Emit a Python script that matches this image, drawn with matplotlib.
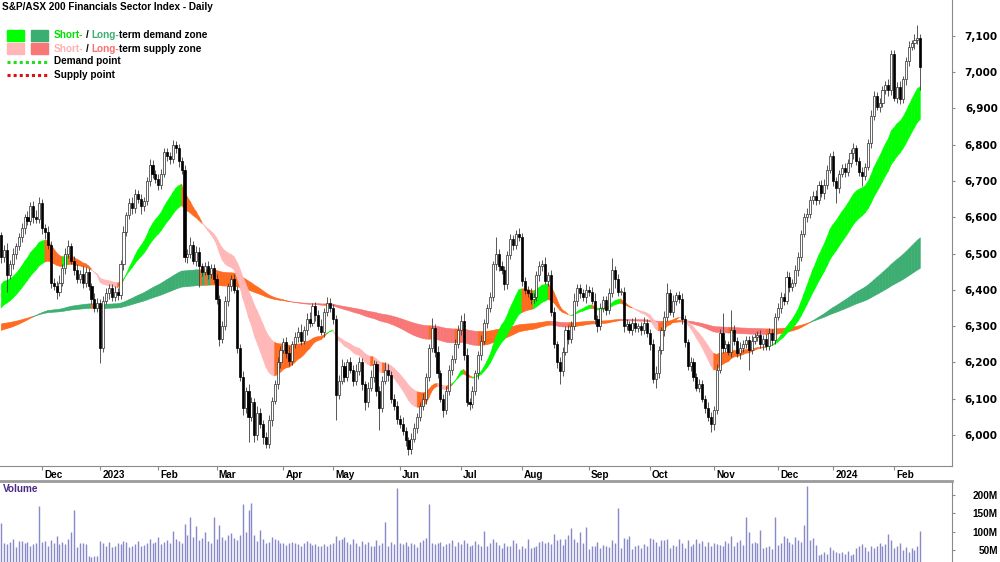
import matplotlib
matplotlib.use("Agg")
import matplotlib.pyplot as plt
from matplotlib.collections import PolyCollection
from matplotlib.patches import Rectangle
from matplotlib.lines import Line2D
import numpy as np
import pandas as pd

# ASX trading days shown on the chart
holidays = ['2022-12-26', '2022-12-27', '2023-01-02', '2023-01-26', '2023-04-07',
            '2023-04-10', '2023-04-25', '2023-06-12', '2023-12-25', '2023-12-26',
            '2024-01-01', '2024-01-26']
dates = pd.bdate_range('2022-11-11', '2024-02-14')
dates = dates[~dates.isin(pd.to_datetime(holidays))]

first_open = 6550
closes = [
    6490, 6510, 6440, 6470, 6500, 6520, 6545, 6570, 6600, 6590, 6630, 6600, 6595, 6640, 6570, 6560, 6525, 6420, 6410, 6395,
    6420, 6460, 6500, 6520, 6480, 6455, 6430, 6445, 6420, 6450, 6410, 6375, 6350, 6365, 6240, 6370, 6390, 6405, 6380, 6395,
    6385, 6470, 6560, 6605, 6640, 6625, 6665, 6650, 6630, 6645, 6700, 6745, 6720, 6705, 6690, 6720, 6780, 6770, 6760, 6800,
    6790, 6755, 6730, 6490, 6500, 6525, 6480, 6505, 6465, 6450, 6465, 6445, 6460, 6430, 6375, 6265, 6300, 6370, 6410, 6430,
    6400, 6240, 6160, 6075, 6120, 6050, 6090, 6000, 6060, 6030, 5995, 5975, 6040, 6095, 6140, 6200, 6235, 6255, 6225, 6205,
    6250, 6270, 6285, 6260, 6290, 6320, 6310, 6355, 6330, 6300, 6285, 6340, 6365, 6350, 6320, 6110, 6150, 6190, 6160, 6200,
    6180, 6150, 6175, 6200, 6140, 6090, 6130, 6160, 6195, 6120, 6075, 6150, 6180, 6165, 6100, 6080, 6045, 6030, 6010, 5985,
    5960, 5990, 6020, 6050, 6080, 6100, 6160, 6240, 6295, 6230, 6170, 6100, 6070, 6120, 6180, 6210, 6250, 6290, 6315, 6220,
    6090, 6085, 6120, 6170, 6220, 6260, 6310, 6350, 6380, 6470, 6500, 6465, 6455, 6415, 6495, 6540, 6525, 6555, 6545, 6425,
    6400, 6390, 6375, 6380, 6440, 6465, 6470, 6425, 6440, 6340, 6250, 6200, 6175, 6230, 6290, 6265, 6300, 6370, 6405, 6390,
    6380, 6400, 6395, 6370, 6320, 6300, 6350, 6372, 6345, 6390, 6455, 6430, 6395, 6395, 6300, 6305, 6290, 6310, 6295, 6300,
    6290, 6310, 6280, 6250, 6155, 6170, 6234, 6289, 6326, 6390, 6340, 6370, 6385, 6375, 6320, 6255, 6190, 6200, 6160, 6130,
    6140, 6100, 6075, 6050, 6030, 6070, 6180, 6280, 6240, 6250, 6230, 6290, 6260, 6225, 6240, 6250, 6262, 6235, 6260, 6270,
    6275, 6250, 6265, 6245, 6280, 6262, 6326, 6350, 6381, 6370, 6436, 6409, 6420, 6454, 6491, 6555, 6601, 6610, 6648, 6660,
    6648, 6690, 6666, 6690, 6731, 6768, 6700, 6680, 6720, 6735, 6725, 6750, 6777, 6790, 6755, 6725, 6715, 6740, 6805, 6880,
    6935, 6905, 6915, 6950, 6965, 6950, 7050, 6930, 6960, 6925, 6980, 7030, 7070, 7080, 7090, 7095, 7015]

# wick lengths above / below the body (index points)
wick_hi = [
    10, 15, 20, 12, 15, 10, 12, 15, 10, 18, 12, 15, 20, 15, 10, 12, 15, 10, 12, 15,
    20, 12, 15, 18, 10, 12, 15, 10, 20, 12, 10, 8, 15, 12, 10, 12, 15, 10, 12, 15,
    10, 12, 15, 10, 12, 15, 12, 10, 15, 12, 10, 15, 12, 10, 15, 12, 10, 12, 10, 13,
    10, 12, 10, 15, 12, 20, 10, 15, 12, 10, 12, 15, 10, 12, 15, 10, 15, 12, 10, 12,
    15, 12, 10, 15, 12, 20, 15, 12, 20, 15, 10, 12, 15, 10, 12, 15, 10, 12, 15, 20,
    10, 15, 12, 20, 10, 15, 20, 10, 12, 15, 20, 10, 15, 12, 10, 12, 15, 20, 12, 10,
    15, 12, 20, 15, 12, 10, 15, 20, 12, 10, 15, 12, 20, 15, 10, 12, 15, 10, 20, 12,
    10, 15, 12, 10, 12, 15, 10, 12, 27, 12, 15, 10, 12, 15, 12, 10, 15, 12, 15, 20,
    20, 12, 15, 10, 12, 15, 10, 12, 15, 10, 47, 12, 15, 10, 12, 15, 12, 10, 15, 12,
    10, 12, 15, 10, 12, 15, 12, 20, 10, 15, 12, 10, 15, 12, 10, 12, 15, 20, 10, 12,
    12, 15, 10, 12, 20, 12, 15, 10, 12, 15, 33, 12, 15, 10, 12, 15, 10, 12, 15, 10,
    12, 15, 10, 12, 15, 20, 12, 10, 15, 28, 12, 15, 10, 12, 15, 12, 10, 15, 12, 10,
    15, 12, 10, 15, 12, 10, 15, 12, 55, 12, 10, 54, 12, 10, 15, 12, 10, 12, 15, 10,
    12, 15, 10, 12, 15, 12, 10, 15, 12, 10, 15, 12, 10, 15, 12, 10, 12, 15, 10, 12,
    15, 10, 12, 15, 12, 10, 15, 12, 10, 12, 15, 10, 12, 15, 10, 12, 15, 10, 12, 16,
    12, 10, 15, 12, 10, 15, 12, 10, 12, 15, 10, 12, 15, 10, 15, 35, 10]
wick_lo = [
    15, 12, 45, 10, 12, 15, 10, 12, 15, 10, 12, 15, 10, 12, 15, 20, 12, 15, 10, 20,
    12, 10, 15, 12, 10, 15, 12, 10, 15, 12, 10, 15, 12, 10, 42, 12, 10, 15, 12, 10,
    12, 10, 15, 12, 10, 15, 12, 10, 20, 12, 10, 15, 12, 10, 15, 12, 10, 15, 12, 10,
    12, 15, 10, 12, 15, 12, 10, 15, 57, 12, 10, 15, 12, 10, 15, 20, 12, 10, 15, 12,
    10, 15, 12, 20, 15, 70, 12, 20, 15, 12, 20, 10, 12, 15, 10, 12, 15, 10, 12, 15,
    12, 10, 15, 12, 10, 15, 12, 10, 15, 12, 10, 15, 12, 10, 15, 70, 12, 10, 15, 12,
    10, 15, 12, 10, 15, 20, 12, 10, 15, 12, 60, 12, 10, 15, 12, 10, 15, 12, 10, 15,
    15, 12, 10, 15, 12, 10, 15, 12, 10, 15, 12, 10, 20, 12, 10, 15, 12, 10, 15, 12,
    10, 15, 12, 10, 15, 12, 10, 15, 12, 10, 15, 12, 10, 15, 12, 10, 15, 12, 10, 15,
    12, 10, 15, 12, 10, 15, 12, 10, 15, 12, 10, 15, 35, 12, 10, 15, 12, 10, 15, 12,
    10, 15, 12, 10, 15, 15, 12, 10, 15, 12, 10, 25, 12, 10, 15, 12, 10, 15, 12, 10,
    15, 12, 10, 15, 12, 25, 12, 10, 15, 12, 10, 15, 12, 10, 15, 12, 10, 15, 12, 10,
    12, 10, 15, 12, 21, 15, 12, 10, 15, 12, 10, 15, 12, 10, 15, 12, 10, 55, 12, 10,
    12, 10, 15, 12, 10, 15, 12, 10, 15, 12, 10, 15, 12, 10, 15, 12, 10, 15, 12, 10,
    15, 12, 10, 15, 12, 10, 15, 41, 12, 10, 15, 12, 10, 15, 12, 10, 30, 12, 10, 15,
    12, 10, 15, 12, 10, 15, 12, 10, 15, 12, 10, 15, 12, 10, 15, 12, 65]

# daily volume, millions
volume = [
    123, 70, 65, 72, 80, 58, 75, 75, 70, 72, 60, 65, 68, 171, 72, 75, 62, 78, 70, 88,
    66, 72, 65, 80, 100, 159, 58, 70, 68, 66, 34, 32, 33, 35, 75, 68, 60, 72, 58, 62,
    70, 65, 75, 72, 58, 62, 66, 74, 60, 64, 70, 80, 68, 72, 85, 66, 72, 78, 70, 102,
    80, 75, 68, 120, 90, 140, 85, 115, 78, 82, 100, 75, 70, 139, 80, 118, 85, 76, 90, 95,
    82, 78, 90, 175, 100, 160, 178, 92, 75, 105, 80, 70, 72, 85, 80, 76, 70, 70, 64, 68,
    72, 70, 66, 62, 70, 74, 68, 64, 66, 60, 60, 66, 62, 66, 70, 88, 76, 80, 85, 72,
    65, 80, 70, 62, 74, 66, 72, 60, 62, 76, 64, 70, 127, 60, 72, 66, 219, 70, 66, 72,
    62, 70, 66, 58, 72, 78, 82, 175, 70, 66, 68, 72, 60, 66, 70, 76, 62, 72, 66, 78,
    70, 62, 64, 75, 66, 60, 102, 60, 70, 80, 72, 64, 56, 68, 62, 62, 78, 70, 54, 60,
    56, 80, 55, 58, 60, 72, 75, 68, 72, 66, 94, 78, 80, 64, 80, 90, 111, 80, 72, 100,
    68, 114, 52, 60, 60, 72, 56, 64, 62, 58, 76, 68, 164, 56, 82, 80, 88, 54, 62, 64,
    56, 66, 60, 84, 80, 72, 60, 78, 76, 80, 56, 64, 60, 80, 70, 56, 78, 62, 66, 80,
    68, 74, 60, 72, 62, 70, 66, 64, 60, 74, 68, 88, 60, 72, 76, 64, 140, 98, 68, 72,
    70, 105, 56, 58, 60, 54, 139, 64, 70, 88, 82, 72, 66, 86, 78, 72, 117, 225, 76, 84,
    64, 36, 40, 44, 38, 58, 50, 45, 42, 44, 40, 46, 36, 40, 55, 62, 66, 58, 48, 60,
    56, 62, 70, 60, 66, 94, 76, 56, 62, 68, 50, 58, 44, 56, 50, 60, 102]

# zone averages (EMA spans) and their values at the first bar
short_spans = (20, 34)
short_seed = (6415, 6350)
long_spans = (140, 240)
long_seed = (6288, 6306)

n = len(closes)
assert len(wick_hi) == n and len(wick_lo) == n and len(volume) == n, (len(wick_hi), len(wick_lo), len(volume), n)
dates = dates[:n]

x = np.arange(n)
c = np.array(closes, dtype=float)
o = np.r_[first_open, c[:-1]]
hi = np.maximum(o, c) + np.array(wick_hi)
lo = np.minimum(o, c) - np.array(wick_lo)


def ema(vals, span, seed):
    a = 2.0 / (span + 1)
    out = [seed]
    for v in vals[1:]:
        out.append(out[-1] + a * (v - out[-1]))
    return np.array(out)


def zone_colours(fast, slow, up_col, down_col, mid_col):
    cols = []
    for i in range(len(fast)):
        rising = fast[i] >= fast[i - 1] if i else True
        if fast[i] >= slow[i] and rising:
            cols.append(up_col)
        elif fast[i] < slow[i] and not rising:
            cols.append(down_col)
        else:
            cols.append(mid_col)
    return cols


def zone(ax, fast, slow, cols):
    polys = []
    fc = []
    for i in range(len(fast) - 1):
        polys.append([(i, fast[i]), (i + 1, fast[i + 1]), (i + 1, slow[i + 1]), (i, slow[i])])
        fc.append(cols[i + 1])
    pc = PolyCollection(polys, facecolors=fc, edgecolors=fc, linewidths=0.4, zorder=2)
    ax.add_collection(pc)


orange = '#FF6A1E'
s_fast = ema(c, short_spans[0], short_seed[0])
s_slow = ema(c, short_spans[1], short_seed[1])
l_fast = ema(c, long_spans[0], long_seed[0])
l_slow = ema(c, long_spans[1], long_seed[1])

W, H = 1000, 562
fig = plt.figure(figsize=(W / 100, H / 100), dpi=100)
ax = fig.add_axes([0, 96 / H, 952 / W, 466 / H])
axv = fig.add_axes([0, 0, 952 / W, 81 / H])

FONT = 'Liberation Sans'
grey = '#8a8a8a'

zone(ax, l_fast, l_slow, zone_colours(l_fast, l_slow, '#3DAE72', '#F87676', orange))
zone(ax, s_fast, s_slow, zone_colours(s_fast, s_slow, '#00FF00', '#FFB7B7', orange))

# candles
up = c >= o
body = np.maximum(np.abs(c - o), 2.0)
bottom = np.minimum(o, c)
ax.vlines(x, lo, hi, color='#3c3c3c', lw=0.6, zorder=3)
ax.bar(x[up], body[up], bottom=bottom[up], width=0.72, color='white', edgecolor='#2a2a2a', lw=0.5, zorder=4)
ax.bar(x[~up], body[~up], bottom=bottom[~up], width=0.72, color='black', edgecolor='black', lw=0.5, zorder=4)

ax.set_xlim(-0.45, 326.9)
ax.set_ylim(5914.5, 7199)
ax.yaxis.tick_right()
yt = list(range(6000, 7101, 100))
ax.set_yticks(yt)
ax.set_yticklabels([f'{v:,}' for v in yt], family='DejaVu Sans', fontweight='bold', fontsize=7.5)
ax.tick_params(axis='y', direction='out', length=2, color=grey, pad=31)
for t in ax.get_yticklabels():
    t.set_ha('right')

# month ticks
month_pos = [i for i in range(1, n) if dates[i].month != dates[i - 1].month]
month_lab = [str(dates[i].year) if dates[i].month == 1 else dates[i].strftime('%b') for i in month_pos]
ax.set_xticks(month_pos)
ax.tick_params(axis='x', direction='out', length=3, color=grey, labelbottom=False)
for p, lab in zip(month_pos, month_lab):
    ax.annotate(lab, xy=(p, 0), xycoords=('data', 'axes fraction'), xytext=(1.5, -6.6),
                textcoords='offset points', ha='left', va='center', fontsize=7.2,
                fontweight='bold', family=FONT)

for s in ['left', 'top']:
    ax.spines[s].set_visible(False)
ax.spines['right'].set_color(grey)
ax.spines['bottom'].set_color(grey)

# volume
axv.vlines(x, 0, volume, color='#8888CA', lw=1.0)
axv.set_xlim(-0.45, 326.9)
axv.set_ylim(17.3, 238)
axv.yaxis.tick_right()
vt = [50, 100, 150, 200]
axv.set_yticks(vt)
axv.set_yticklabels([f'{v}M' for v in vt], family=FONT, fontweight='bold', fontsize=7.2)
axv.tick_params(axis='y', direction='out', length=2, color=grey, pad=31)
for t in axv.get_yticklabels():
    t.set_ha('right')
axv.set_xticks([])
for s in ['left', 'bottom']:
    axv.spines[s].set_visible(False)
axv.spines['right'].set_color(grey)
axv.spines['top'].set_color('#9a9a9a')
axv.spines['top'].set_linewidth(2)

fig.text(3 / W, 1 - 489 / H, 'Volume', color='#4B2A86', fontsize=7.2, fontweight='bold',
         family=FONT, va='center', ha='left')

# title and legend
fig.text(2 / W, 1 - 7 / H, 'S&P/ASX 200 Financials Sector Index - Daily', fontsize=7.2,
         fontweight='bold', family=FONT, va='center', ha='left')

renderer = fig.canvas.get_renderer()


def width_px(s):
    t = fig.text(0, 0, s, fontsize=7.2, fontweight='bold', family=FONT)
    w = t.get_window_extent(renderer).width
    t.remove()
    return w


def multi_text(x0, y0, full, parts):
    # parts: (start index in full, substring, colour)
    for start, sub, col in parts:
        pre = full[:start] + sub[0]
        off = width_px(pre) - width_px(sub[0]) if start else 0
        fig.text((x0 + off) / W, 1 - y0 / H, sub, color=col, fontsize=7.2, fontweight='bold',
                 family=FONT, va='center', ha='left')


rows_y = [35.5, 48.5, 61.5, 74.5]
fig.patches.append(Rectangle((7 / W, 1 - 40.5 / H), 17 / W, 10 / H, transform=fig.transFigure, color='#00FF00'))
fig.patches.append(Rectangle((31 / W, 1 - 40.5 / H), 17 / W, 10 / H, transform=fig.transFigure, color='#3DAE72'))
fig.patches.append(Rectangle((7 / W, 1 - 53.5 / H), 17 / W, 10 / H, transform=fig.transFigure, color='#FFB7B7'))
fig.patches.append(Rectangle((31 / W, 1 - 53.5 / H), 17 / W, 10 / H, transform=fig.transFigure, color='#F87676'))

full1 = 'Short- / Long-term demand zone'
multi_text(54, rows_y[0], full1, [(0, 'Short-', '#00E000'), (7, '/', 'black'),
                                  (9, 'Long-', '#3DAE72'), (14, 'term demand zone', 'black')])
full2 = 'Short- / Long-term supply zone'
multi_text(54, rows_y[1], full2, [(0, 'Short-', '#FFB0B0'), (7, '/', 'black'),
                                  (9, 'Long-', '#F87070'), (14, 'term supply zone', 'black')])

fig.lines.append(Line2D([7 / W, 48 / W], [1 - rows_y[2] / H] * 2, transform=fig.transFigure,
                        color='#22DD22', lw=2.2, ls=(0, (1, 1))))
fig.lines.append(Line2D([7 / W, 48 / W], [1 - rows_y[3] / H] * 2, transform=fig.transFigure,
                        color='#DD1111', lw=2.2, ls=(0, (1, 1))))
fig.text(54 / W, 1 - rows_y[2] / H, 'Demand point', fontsize=7.2, fontweight='bold', family=FONT, va='center')
fig.text(54 / W, 1 - rows_y[3] / H, 'Supply point', fontsize=7.2, fontweight='bold', family=FONT, va='center')

fig.savefig('out.png', dpi=100)
